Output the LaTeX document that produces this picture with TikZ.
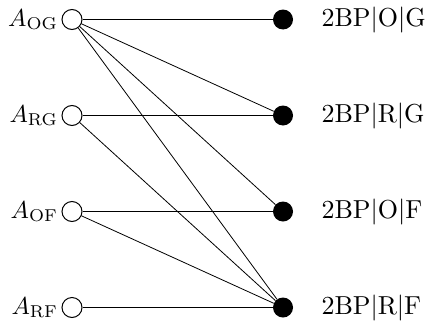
\documentclass[tikz,border=0pt]{standalone}
\begin{document}
\begin{tikzpicture}[x=1pt,y=-1pt,
  src/.style={circle,draw,line width=1pt,fill=white,minimum size=20pt,inner sep=0pt},
  dst/.style={circle,fill=black,minimum size=20pt,inner sep=0pt},
  lbl/.style={inner sep=0pt,scale=2.45},
  rlbl/.style={inner sep=0pt,scale=2.6},
  link/.style={line width=0.8pt}]
\useasboundingbox (0,0) rectangle (427,324);
% attribute nodes (left column)
\node[src] (aog) at (72,19.5) {};
\node[src] (arg) at (72,115.5) {};
\node[src] (aof) at (72,211.5) {};
\node[src] (arf) at (72,307.5) {};
% outcome nodes (right column)
\node[dst] (bog) at (283,19.5) {};
\node[dst] (brg) at (283,115.5) {};
\node[dst] (bof) at (283,211.5) {};
\node[dst] (brf) at (283,307.5) {};
% labels
\node[lbl,anchor=east] (laog) at ([xshift=-3pt]aog.west) {$A_{\mathrm{OG}}$};
\node[lbl,anchor=east] (larg) at ([xshift=-3pt]arg.west) {$A_{\mathrm{RG}}$};
\node[lbl,anchor=east] (laof) at ([xshift=-3pt]aof.west) {$A_{\mathrm{OF}}$};
\node[lbl,anchor=east] (larf) at ([xshift=-3pt]arf.west) {$A_{\mathrm{RF}}$};
\node[rlbl,anchor=west] (lbog) at (321,19.5) {$2\mathrm{BP}|\mathrm{O}|\mathrm{G}$};
\node[rlbl,anchor=west] (lbrg) at (321,115.5) {$2\mathrm{BP}|\mathrm{R}|\mathrm{G}$};
\node[rlbl,anchor=west] (lbof) at (321,211.5) {$2\mathrm{BP}|\mathrm{O}|\mathrm{F}$};
\node[rlbl,anchor=west] (lbrf) at (321,307.5) {$2\mathrm{BP}|\mathrm{R}|\mathrm{F}$};
% connections
\draw[link] (aog) -- (bog);
\draw[link] (aog) -- (brg);
\draw[link] (aog) -- (bof);
\draw[link] (aog) -- (brf);
\draw[link] (arg) -- (brg);
\draw[link] (arg) -- (brf);
\draw[link] (aof) -- (bof);
\draw[link] (aof) -- (brf);
\draw[link] (arf) -- (brf);
\end{tikzpicture}
\end{document}
